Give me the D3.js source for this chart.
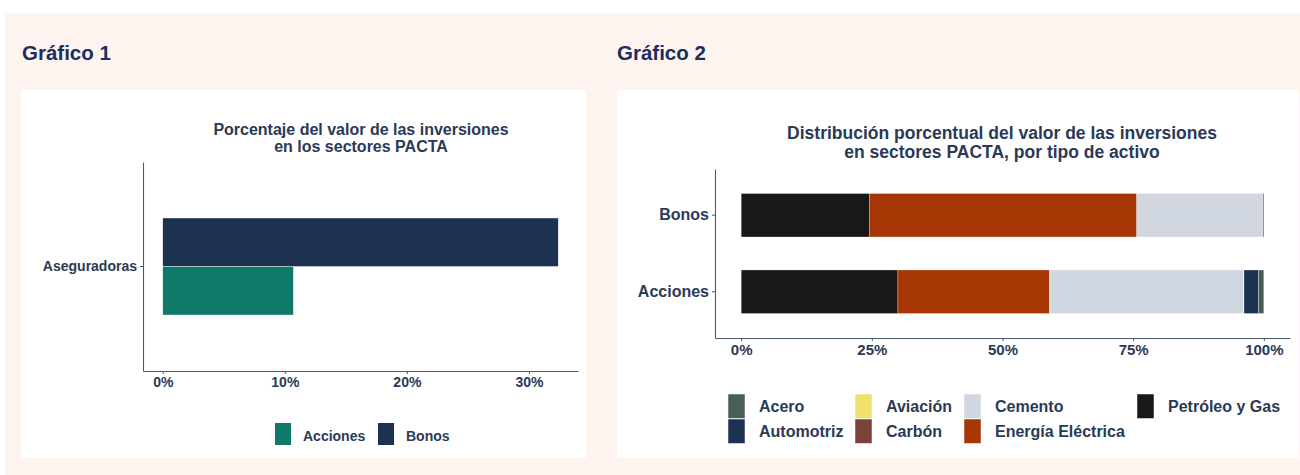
<!DOCTYPE html>
<html>
<head>
<meta charset="utf-8">
<script src="https://cdn.jsdelivr.net/npm/d3@7"></script>
<style>
body{margin:0;background:#fff;}
text{font-family:"Liberation Sans",Arial,sans-serif;font-weight:bold;}
</style>
</head>
<body>
<div class="content"></div>
<script>
const SVG_W = 1300;
const SVG_H = 475;
const TXT = "#2a3a56";
const AXIS_C = "#4b5872";

// grafico 1 data
const g1_categories = ["Aseguradoras"];
const g1_series = ["Bonos", "Acciones"];
const g1_values = [0.324, 0.107];
const g1_colors = ["#1d3150", "#0f7a6a"];
const g1_ticks = [0, 0.1, 0.2, 0.3];

// grafico 2 data
const g2_categories = ["Bonos", "Acciones"];
const g2_sectors = ["Petróleo y Gas", "Energía Eléctrica", "Cemento", "Carbón", "Aviación", "Automotriz", "Acero"];
const g2_bonos = [0.245, 0.512, 0.241, 0.002, 0.0, 0.0, 0.0];
const g2_acciones = [0.300, 0.290, 0.371, 0.0, 0.001, 0.028, 0.010];
const g2_colors = ["#191816", "#a63603", "#d0d7e1", "#7a4238", "#f2e06e", "#1d3150", "#4a5e55"];
const g2_legend = ["Acero", "Automotriz", "Aviación", "Carbón", "Cemento", "Energía Eléctrica", "Petróleo y Gas"];
const g2_ticks = [0, 0.25, 0.5, 0.75, 1];

const svg = d3.select(".content").append("svg").attr("width", SVG_W).attr("height", SVG_H);

// background + panels
svg.append("rect").attr("x", 5).attr("y", 13).attr("width", SVG_W - 5).attr("height", SVG_H - 13).attr("fill", "#fdf4ef");
svg.append("rect").attr("x", 21).attr("y", 90).attr("width", 565).attr("height", 368).attr("fill", "#fff");
svg.append("rect").attr("x", 617).attr("y", 90).attr("width", 682).attr("height", 368).attr("fill", "#fff");

svg.append("text").attr("x", 22).attr("y", 60).text("Gráfico 1").attr("font-size", 20.5).attr("fill", "#1b2f5e");
svg.append("text").attr("x", 617).attr("y", 60).text("Gráfico 2").attr("font-size", 20.5).attr("fill", "#1b2f5e");

function styleAxis(g, size){
    g.selectAll("path").attr("stroke", AXIS_C).attr("stroke-width", 1.1);
    g.selectAll("line").attr("stroke", AXIS_C);
    g.selectAll("text").attr("fill", TXT).attr("font-size", size).style("font-family", '"Liberation Sans",Arial,sans-serif').style("font-weight", "bold");
}

// ---------- grafico 1 ----------
let x1 = d3.scaleLinear().domain([-0.0162, 0.3402]).range([143, 578]);
let y1 = d3.scaleBand().domain(g1_categories).range([162, 371]).paddingOuter(0.577).paddingInner(0);
let sub1 = d3.scaleBand().domain(g1_series).range([0, y1.bandwidth()]);

let t1 = svg.append("text").attr("text-anchor", "middle").attr("fill", TXT).attr("font-size", 16);
t1.append("tspan").attr("x", 361).attr("y", 135).text("Porcentaje del valor de las inversiones");
t1.append("tspan").attr("x", 361).attr("y", 152).text("en los sectores PACTA");

let g1 = svg.append("g");
g1.selectAll("rect")
    .data(g1_series.map((s, i) => ({key: s, value: g1_values[i], color: g1_colors[i]})))
    .join("rect")
    .attr("x", x1(0))
    .attr("y", d => y1(g1_categories[0]) + sub1(d.key))
    .attr("width", d => x1(d.value) - x1(0))
    .attr("height", sub1.bandwidth())
    .attr("fill", d => d.color)
    .attr("stroke", "#fff").attr("stroke-width", 0.4);

let xa1 = svg.append("g").attr("transform", "translate(0,371)")
    .call(d3.axisBottom(x1).tickValues(g1_ticks).tickFormat(d3.format(".0%")).tickSize(3).tickSizeOuter(0).tickPadding(3));
styleAxis(xa1, 14);
let ya1 = svg.append("g").attr("transform", "translate(143,0)")
    .call(d3.axisLeft(y1).tickSize(3).tickSizeOuter(0).tickPadding(3));
styleAxis(ya1, 14);

// legend 1
let leg1 = [{k: "Acciones", c: "#0f7a6a", x: 275}, {k: "Bonos", c: "#1d3150", x: 378}];
let lg1 = svg.append("g").selectAll("g").data(leg1).join("g");
lg1.append("rect").attr("x", d => d.x).attr("y", 423).attr("width", 16).attr("height", 22).attr("fill", d => d.c);
lg1.append("text").attr("x", d => d.x + 28).attr("y", 441).attr("font-size", 14).attr("fill", TXT).text(d => d.k);

// ---------- grafico 2 ----------
let x2 = d3.scaleLinear().domain([-0.05, 1.05]).range([715, 1290]);
let y2 = d3.scaleBand().domain(g2_categories).range([169, 338]).paddingInner(0.431).paddingOuter(0.32);
let color2 = d3.scaleOrdinal().domain(g2_sectors).range(g2_colors);

let t2 = svg.append("text").attr("text-anchor", "middle").attr("fill", TXT).attr("font-size", 17.5);
t2.append("tspan").attr("x", 1002).attr("y", 139).text("Distribución porcentual del valor de las inversiones");
t2.append("tspan").attr("x", 1002).attr("y", 158).text("en sectores PACTA, por tipo de activo");

let rows2 = g2_categories.map(c => {
    let vals = c === "Bonos" ? g2_bonos : g2_acciones;
    let obj = {cat: c};
    g2_sectors.forEach((s, i) => obj[s] = vals[i]);
    return obj;
});
let stack2 = d3.stack().keys(g2_sectors)(rows2);

svg.append("g").selectAll("g")
    .data(stack2)
    .join("g")
    .attr("fill", d => color2(d.key))
    .selectAll("rect")
    .data(d => d.filter(p => p[1] - p[0] > 0))
    .join("rect")
    .attr("x", d => x2(d[0]))
    .attr("y", d => y2(d.data.cat))
    .attr("width", d => x2(d[1]) - x2(d[0]))
    .attr("height", y2.bandwidth())
    .attr("stroke", "#fff").attr("stroke-width", 0.3);

let xa2 = svg.append("g").attr("transform", "translate(0,338)")
    .call(d3.axisBottom(x2).tickValues(g2_ticks).tickFormat(d3.format(".0%")).tickSize(3).tickSizeOuter(0).tickPadding(3));
styleAxis(xa2, 15);
let ya2 = svg.append("g").attr("transform", "translate(715,0)")
    .call(d3.axisLeft(y2).tickSize(3).tickSizeOuter(0).tickPadding(3));
styleAxis(ya2, 16);

// legend 2 (4 columns, 2 rows, filled by column)
let colX = [728, 855, 964, 1137];
let lg2 = svg.append("g").selectAll("g").data(g2_legend).join("g")
    .attr("transform", (d, i) => "translate(" + colX[Math.floor(i / 2)] + "," + (394 + (i % 2) * 25) + ")");
lg2.append("rect").attr("width", 17).attr("height", 24.5).attr("fill", d => color2(d)).attr("stroke", "#fff").attr("stroke-width", 0.5);
lg2.append("text").attr("x", 31).attr("y", 18).attr("font-size", 16).attr("fill", TXT).text(d => d);
</script>
</body>
</html>
